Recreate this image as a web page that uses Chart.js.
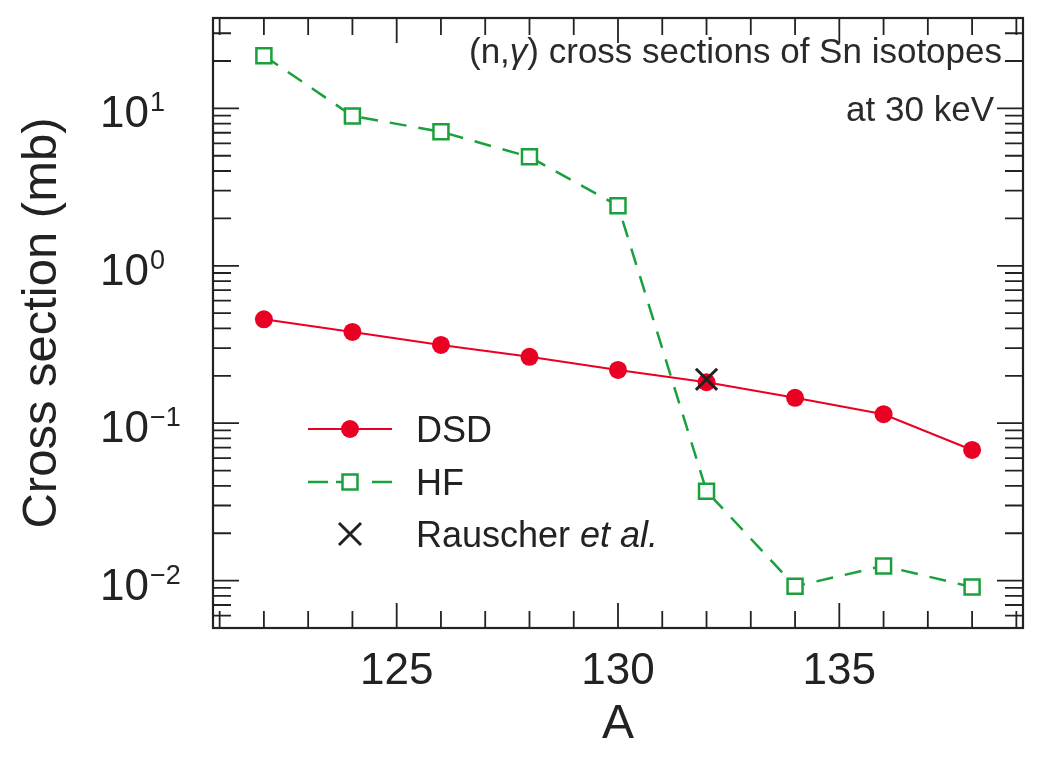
<!DOCTYPE html>
<html>
<head>
<meta charset="utf-8">
<script src="https://cdn.jsdelivr.net/npm/chart.js@4"></script>
<style>
  body { margin: 0; background: #fff; }
  canvas { display: block; }
</style>
</head>
<body>
<canvas id="myChart" width="1041" height="762"></canvas>
<script>
// values
const massNumbers = [122, 124, 126, 128, 130, 132, 134, 136, 138];
const dsdValues = [0.457, 0.38, 0.314, 0.264, 0.218, 0.182, 0.145, 0.114, 0.0676];
const hfValues = [21.6, 8.95, 7.1, 4.92, 2.41, 0.037, 0.0092, 0.0124, 0.0091];
const rauscherA = [132];
const rauscherValues = [0.19];
const xTickLabels = [125, 130, 135];
const yDecades = [-2, -1, 0, 1];

const red = 'rgb(234, 0, 34)';
const green = 'rgb(26, 160, 60)';
const ink = '#222';
const font = '"Liberation Sans", Arial, Helvetica, sans-serif';

function toPoints(xs, ys) {
    return xs.map((x, i) => ({ x: x, y: ys[i] }));
}

const framePlugin = {
    id: 'frame',
    afterDraw(chart) {
        const ctx = chart.ctx;
        const a = chart.chartArea;
        const xs = chart.scales.x;
        const ys = chart.scales.y;
        ctx.save();
        ctx.strokeStyle = ink;
        ctx.fillStyle = ink;

        // ticks, inward on all four sides
        ctx.lineWidth = 1.8;
        ctx.beginPath();
        for (let v = Math.ceil(xs.min); v <= xs.max; v++) {
            const px = xs.getPixelForValue(v);
            const len = v % 5 === 0 ? 25 : 17;
            ctx.moveTo(px, a.bottom); ctx.lineTo(px, a.bottom - len);
            ctx.moveTo(px, a.top); ctx.lineTo(px, a.top + len);
        }
        for (let e = -3; e <= 1; e++) {
            for (let m = 1; m <= 9; m++) {
                const v = m * Math.pow(10, e);
                if (v < ys.min || v > ys.max) continue;
                const py = ys.getPixelForValue(v);
                const len = m === 1 ? 26 : 18;
                ctx.moveTo(a.left, py); ctx.lineTo(a.left + len, py);
                ctx.moveTo(a.right, py); ctx.lineTo(a.right - len, py);
            }
        }
        ctx.stroke();

        // frame
        ctx.lineWidth = 2.2;
        ctx.strokeRect(a.left, a.top, a.right - a.left, a.bottom - a.top);

        // x tick labels
        ctx.font = '44px ' + font;
        ctx.textAlign = 'center';
        ctx.textBaseline = 'alphabetic';
        xTickLabels.forEach(v => {
            ctx.fillText(String(v), xs.getPixelForValue(v), 684);
        });

        // y tick labels 10^n
        ctx.textAlign = 'left';
        yDecades.forEach(e => {
            const py = ys.getPixelForValue(Math.pow(10, e));
            ctx.font = '44px ' + font;
            ctx.fillText('10', 100, py + 19);
            const w = ctx.measureText('10').width;
            ctx.font = '27px ' + font;
            ctx.fillText(String(e).replace('-', '\u2212'), 100 + w + 1, py + 3);
        });

        // axis titles
        ctx.font = '48px ' + font;
        ctx.textAlign = 'center';
        ctx.fillText('A', (a.left + a.right) / 2, 738);
        ctx.save();
        ctx.translate(56, (a.top + a.bottom) / 2);
        ctx.rotate(-Math.PI / 2);
        ctx.font = '49px ' + font;
        ctx.fillText('Cross section (mb)', 0, 0);
        ctx.restore();

        // annotation, top right
        ctx.fillStyle = '#2a2a2a';
        const runs = [['(n,', false], ['\u03b3', true], [') cross sections of Sn isotopes', false]];
        let total = 0;
        runs.forEach(r => {
            ctx.font = (r[1] ? 'italic ' : '') + '35px ' + font;
            total += ctx.measureText(r[0]).width;
        });
        let tx = 1002 - total;
        ctx.textAlign = 'left';
        runs.forEach(r => {
            ctx.font = (r[1] ? 'italic ' : '') + '35px ' + font;
            ctx.fillText(r[0], tx, 63);
            tx += ctx.measureText(r[0]).width;
        });
        ctx.font = '35px ' + font;
        ctx.textAlign = 'right';
        ctx.fillText('at 30 keV', 994, 121);

        // legend
        const lx0 = 308, lx1 = 392, mx = 350, tx0 = 416;
        const rows = [429, 482, 534];
        ctx.textAlign = 'left';

        ctx.strokeStyle = red;
        ctx.lineWidth = 2;
        ctx.beginPath(); ctx.moveTo(lx0, rows[0]); ctx.lineTo(lx1, rows[0]); ctx.stroke();
        ctx.fillStyle = red;
        ctx.beginPath(); ctx.arc(mx, rows[0], 9, 0, Math.PI * 2); ctx.fill();

        ctx.strokeStyle = green;
        ctx.lineWidth = 2.5;
        ctx.beginPath();
        ctx.moveTo(lx0, rows[1]); ctx.lineTo(lx0 + 20, rows[1]);
        ctx.moveTo(lx1 - 20, rows[1]); ctx.lineTo(lx1, rows[1]);
        ctx.moveTo(mx - 14, rows[1]); ctx.lineTo(mx - 8, rows[1]);
        ctx.stroke();
        ctx.fillStyle = '#fff';
        ctx.fillRect(mx - 7.5, rows[1] - 7.5, 15, 15);
        ctx.strokeRect(mx - 7.5, rows[1] - 7.5, 15, 15);

        ctx.strokeStyle = ink;
        ctx.lineWidth = 3;
        ctx.beginPath();
        ctx.moveTo(mx - 11, rows[2] - 11); ctx.lineTo(mx + 11, rows[2] + 11);
        ctx.moveTo(mx + 11, rows[2] - 11); ctx.lineTo(mx - 11, rows[2] + 11);
        ctx.stroke();

        ctx.fillStyle = ink;
        ctx.font = '36px ' + font;
        ctx.fillText('DSD', tx0, rows[0] + 13);
        ctx.fillText('HF', tx0, rows[1] + 13);
        ctx.fillText('Rauscher ', tx0, rows[2] + 13);
        const rw = ctx.measureText('Rauscher ').width;
        ctx.font = 'italic 36px ' + font;
        ctx.fillText('et al.', tx0 + rw, rows[2] + 13);

        ctx.restore();
    }
};

const ctx = document.getElementById('myChart').getContext('2d');
const myChart = new Chart(ctx, {
    type: 'line',
    data: {
        datasets: [{
            label: 'Rauscher et al.',
            data: toPoints(rauscherA, rauscherValues),
            showLine: false,
            pointStyle: 'crossRot',
            pointRadius: 15,
            pointBorderColor: ink,
            pointBorderWidth: 3
        },
        {
            label: 'DSD',
            data: toPoints(massNumbers, dsdValues),
            borderColor: red,
            borderWidth: 2,
            pointStyle: 'circle',
            pointRadius: 9,
            pointBackgroundColor: red,
            pointBorderWidth: 0
        },
        {
            label: 'HF',
            data: toPoints(massNumbers, hfValues),
            borderColor: green,
            borderWidth: 2.5,
            borderDash: [17, 12],
            pointStyle: 'rect',
            pointRadius: 10.6,
            pointBackgroundColor: '#fff',
            pointBorderColor: green,
            pointBorderWidth: 2.5
        }]
    },
    options: {
        responsive: false,
        animation: false,
        layout: { padding: { top: 12, right: 8, left: 0, bottom: 0 } },
        plugins: {
            legend: { display: false },
            tooltip: { enabled: false }
        },
        scales: {
            x: {
                type: 'linear',
                min: 120.85,
                max: 139.15,
                ticks: { display: false },
                grid: { display: false },
                border: { display: false },
                afterFit: s => { s.height = 134; }
            },
            y: {
                type: 'logarithmic',
                min: 0.005,
                max: 37.5,
                ticks: { display: false },
                grid: { display: false },
                border: { display: false },
                afterFit: s => { s.width = 213; }
            }
        }
    },
    plugins: [framePlugin]
});
</script>
</body>
</html>
